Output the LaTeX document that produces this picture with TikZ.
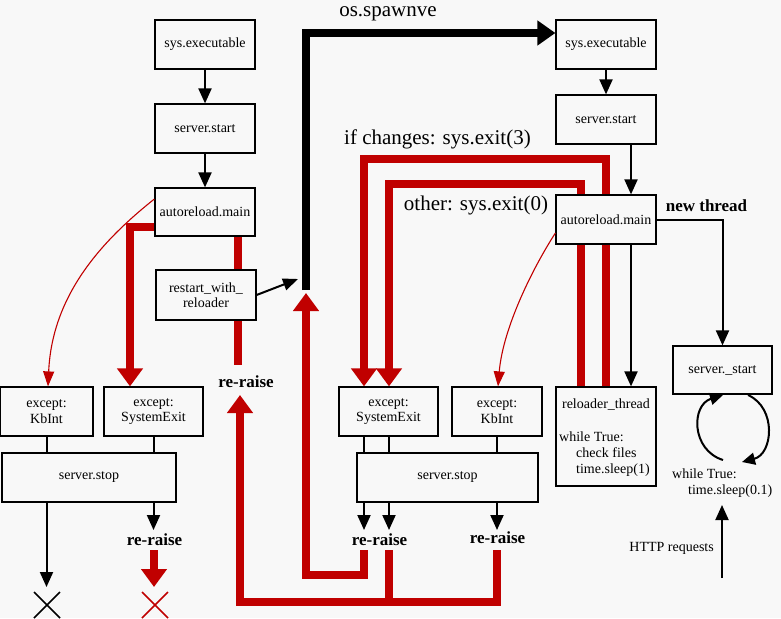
\documentclass[tikz,border=0pt]{standalone}
\usepackage{fontspec}
\setmainfont{Liberation Serif}
\usetikzlibrary{arrows.meta}
\definecolor{bgc}{HTML}{F8F8F8}
\definecolor{dred}{HTML}{C00000}
\pgfdeclarelayer{bglayer}
\pgfdeclarelayer{backlayer}
\pgfsetlayers{bglayer,backlayer,main}
\begin{document}
\begin{tikzpicture}[x=1pt,y=-1pt,
 box/.style={draw, line width=1.2pt, fill=bgc, inner sep=0pt, font=\fontsize{14}{15.5}\selectfont, align=center},
 arr/.style={line width=2pt, -{Triangle[length=15pt,width=13pt]}},
 arrs/.style={line width=2pt, -{Triangle[length=13pt,width=12pt]}},
 thinl/.style={line width=2pt},
 redthick/.style={draw=dred, line width=8pt},
 redarr/.style={redthick, -{Triangle[length=18pt,width=25pt]}},
 redthin/.style={draw=dred, line width=1.1pt, -{Triangle[length=15pt,width=11pt]}},
 lab/.style={font=\fontsize{21}{24}\selectfont, inner sep=0pt},
 blab/.style={font=\bfseries\fontsize{17}{20}\selectfont, inner sep=0pt},
 txt/.style={font=\fontsize{14}{16}\selectfont, inner sep=0pt},
]
\useasboundingbox (0,0) rectangle (781,618);
\begin{pgfonlayer}{bglayer}
\fill[bgc] (0,0) rectangle (781,618);
\end{pgfonlayer}

% left column
\node[box, minimum width=100pt, minimum height=49pt] (sxL) at (205,44.5) {sys.executable};
\node[box, minimum width=100pt, minimum height=49pt] (ssL) at (205,128.5) {server.start};
\node[box, minimum width=100pt, minimum height=48pt] (amL) at (205,212) {autoreload.main};
\node[box, minimum width=100pt, minimum height=50pt] (rwr) at (206,295) {restart\_with\_\\reloader};
\node[box, minimum width=93pt, minimum height=49pt] (kbL) at (46.5,411.5) {except:\\KbInt};
\node[box, minimum width=99pt, minimum height=49pt] (seL) at (153.5,411.5) {except:\\SystemExit};
\node[box, minimum width=174pt, minimum height=49pt] (stL) at (89,477.5) {server.stop};

% right column
\node[box, minimum width=100pt, minimum height=49pt] (sxR) at (606,44.5) {sys.executable};
\node[box, minimum width=100pt, minimum height=49pt] (ssR) at (606,119.5) {server.start};
\node[box, minimum width=100pt, minimum height=49pt] (amR) at (606,219.5) {autoreload.main};
\node[box, minimum width=100pt, minimum height=99pt] (rt) at (606,436.5) {};
\node[txt] (rtT) at (606,405) {reloader\_thread};
\node[txt, anchor=west] (rtW) at (559,437) {while True:};
\node[txt, anchor=west] (rtC) at (576,453) {check files};
\node[txt, anchor=west] (rtS) at (576,470) {time.sleep(1)};
\node[box, minimum width=99pt, minimum height=48pt] (sst) at (722.5,370) {server.\_start};

% middle
\node[box, minimum width=99pt, minimum height=49pt] (seM) at (388.5,411.5) {except:\\SystemExit};
\node[box, minimum width=90pt, minimum height=49pt] (kbM) at (497,411.5) {except:\\KbInt};
\node[box, minimum width=181pt, minimum height=49pt] (stM) at (447.5,477.5) {server.stop};

% labels
\node[lab] (lspawn) at (388,14) {os.spawnve};
\node[lab] (lexit3) at (437.5,139) {if changes: sys.exit(3)};
\node[lab] (lexit0) at (476,205.5) {other: sys.exit(0)};
\node[blab] (lnew) at (706.5,206) {new thread};
\node[blab] (rr1) at (246,382) {re-raise};
\node[blab] (rr2) at (154.5,540) {re-raise};
\node[blab] (rr3) at (379.5,540) {re-raise};
\node[blab] (rr4) at (497.5,538) {re-raise};
\node[txt, anchor=west] (lw) at (672,474) {while True:};
\node[txt, anchor=west] (lts) at (688,491) {time.sleep(0.1)};
\node[txt, anchor=east] (lhttp) at (714,548) {HTTP requests};

% coordinates
\coordinate (rA) at (238,365);
\coordinate (spTip) at (306,293);
\coordinate (spBot) at (306,290);
\coordinate (rsTip) at (298,279);
\coordinate (upTip) at (240,395);
\coordinate (r364) at (364,550);
\coordinate (r389) at (389,550);
\coordinate (r497) at (497,550);
\coordinate (xTip) at (46.5,587);
\coordinate (rxTip) at (154,587);
\coordinate (rxS) at (154,550);
\coordinate (hS) at (722,578);
\coordinate (hT) at (722,505);

\begin{pgfonlayer}{backlayer}
% red thick
\draw[redarr] ([yshift=-15pt]amL.west) -| ([xshift=-23.5pt]seL.north);
\draw[redthick] ([xshift=33pt]amL.south) -- (rA);
\draw[redarr] (r497) |- (240,602) -- (upTip);
\draw[redthick] (r389) -- (389,602);
\draw[redarr] (r364) |- (306,575) -- (spTip);
\draw[redarr] (rt.north) |- (364,159) -- ([xshift=-24.5pt]seM.north);
\draw[redarr] ([xshift=-25pt]rt.north) |- (389,184) -- ([xshift=0.5pt]seM.north);
% black lines
\draw[arr] ([xshift=25pt]amR.south) -- ([xshift=25pt]rt.north);
\end{pgfonlayer}

% red thin curves
\draw[redthin] ([yshift=13pt]amL.west) .. controls (99,243) and (52,297) .. ([xshift=1.5pt]kbL.north);
\draw[redthin] ([yshift=-13.5pt]amR.west) .. controls (534,266) and (503,327) .. ([xshift=1pt]kbM.north);

% black connectors
\draw[arr] (sxL.south) -- (ssL.north);
\draw[arr] (ssL.south) -- (amL.north);
\draw[arr] (sxR.south) -- (ssR.north);
\draw[arr] ([xshift=25pt]ssR.south) -- ([xshift=25pt]amR.north);
\draw[arr] (amR.east) -| (sst.north);
\draw[line width=2pt, -{Triangle[length=15pt,width=12pt]}] (rwr.east) -- (rsTip);
\draw[line width=7.5pt, -{Triangle[length=18pt,width=24pt]}] (spBot) |- ([yshift=11.5pt]sxR.west);

% lower left
\draw[thinl] (kbL.south) -- (kbL.south |- stL.north);
\draw[thinl] (seL.south) -- (seL.south |- stL.north);
\draw[arr] (kbL.south |- stL.south) -- (xTip);
\draw[arr] (seL.south |- stL.south) -- (153.5,530);
\draw[redarr] (rxS) -- (rxTip);
\draw[line width=1.5pt] (34,592) -- (60,618) (34,618) -- (60,592);
\draw[dred, line width=1.5pt] (142,592) -- (168,618) (142,618) -- (168,592);

% lower middle
\draw[thinl] ([xshift=-24.5pt]seM.south) -- ([xshift=-24.5pt]seM.south |- stM.north);
\draw[thinl] ([xshift=0.5pt]seM.south) -- ([xshift=0.5pt]seM.south |- stM.north);
\draw[thinl] (kbM.south) -- (kbM.south |- stM.north);
\draw[arr] ([xshift=-24.5pt]seM.south |- stM.south) -- (364,530);
\draw[arr] ([xshift=0.5pt]seM.south |- stM.south) -- (389,530);
\draw[arr] (kbM.south |- stM.south) -- (497,530);

% server._start loop
\draw[arrs] (723,460) .. controls (691,450) and (691,405) .. (723,395);
\draw[arrs] (748,395) .. controls (777,408) and (773,454) .. (742,462);
\draw[arr] (hS) -- (hT);
\end{tikzpicture}
\end{document}
